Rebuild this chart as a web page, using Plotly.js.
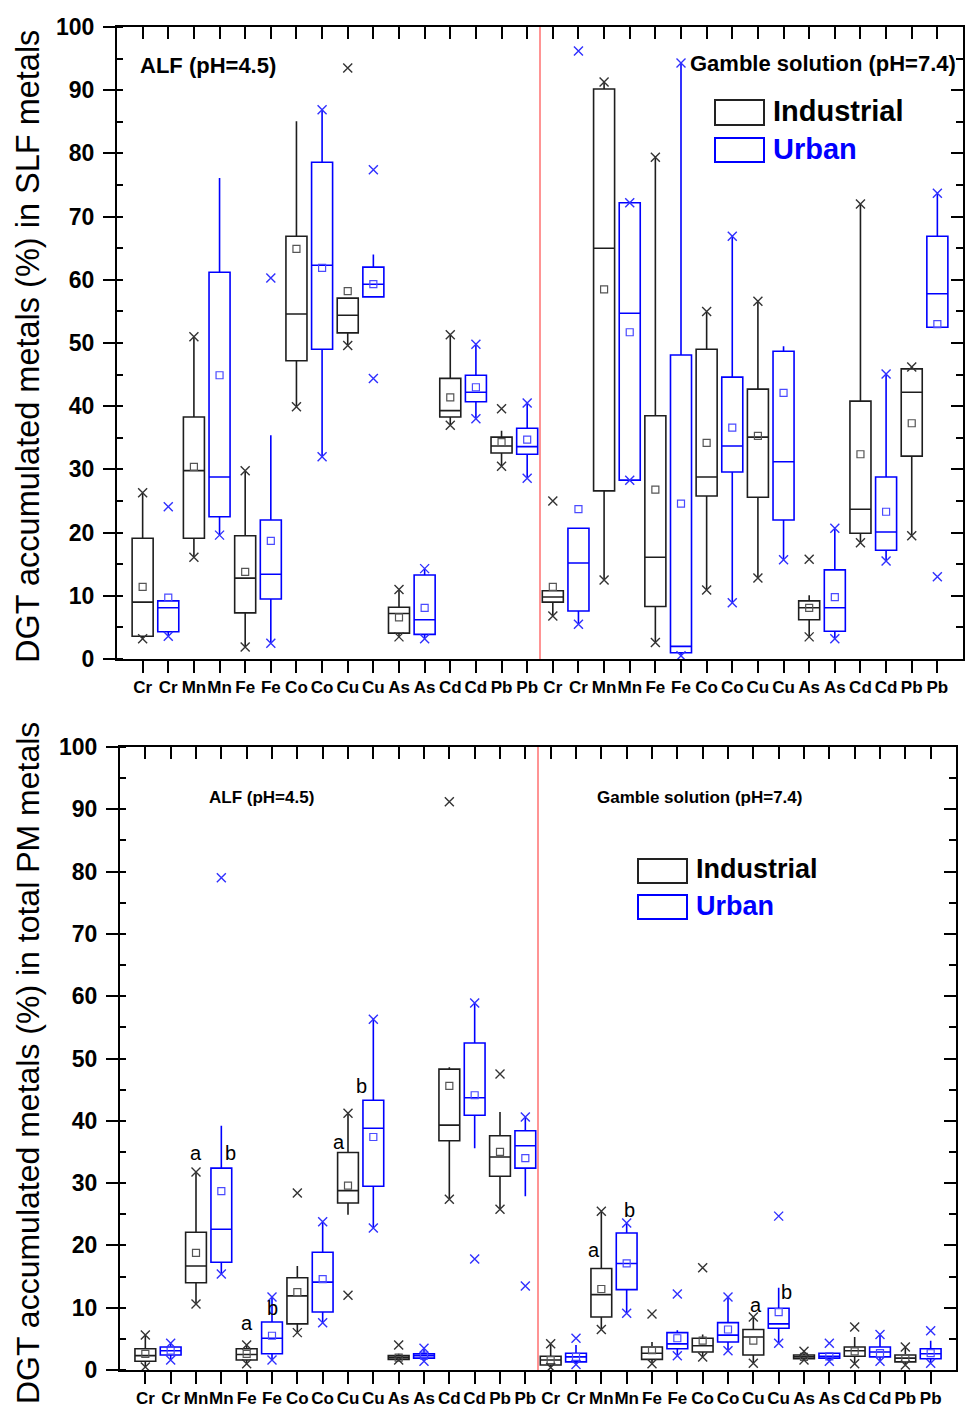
<!DOCTYPE html>
<html>
<head>
<meta charset="utf-8">
<script src="https://cdn.plot.ly/plotly-3.0.1.min.js"></script>
<style>html,body{margin:0;padding:0;background:#fff;}#chart{width:965px;height:1407px;}</style>
</head>
<body>
<div id="chart"></div>
<script>
// ---------- categories ----------
const metals = ['Cr','Mn','Fe','Co','Cu','As','Cd','Pb'];
const mediaLabels = ['ALF (pH=4.5)', 'Gamble solution (pH=7.4)'];
const groupNames = ['Industrial', 'Urban'];
const yTitleTop = 'DGT accumulated metals (%) in SLF metals';
const yTitleBottom = 'DGT accumulated metals (%) in total PM metals';

// ---------- top panel (SLF) : order ALF Cr..Pb, then Gamble Cr..Pb ----------
const slfIndLow  = [3.2,16.1,1.9,39.9,49.6,3.5,37.0,30.5, 6.8,12.5,2.6,10.9,12.8,3.5,18.4,19.5];
const slfIndQ1   = [3.6,19.1,7.3,47.2,51.6,4.1,38.3,32.6, 9.0,26.6,8.3,25.8,25.6,6.2,19.9,32.1];
const slfIndMed  = [9.0,29.8,12.8,54.6,54.4,7.2,39.3,33.7, 9.8,65.0,16.1,28.8,35.1,8.1,23.7,42.2];
const slfIndQ3   = [19.1,38.3,19.5,66.9,57.1,8.2,44.4,35.1, 10.8,90.2,38.5,49.0,42.7,9.2,40.8,45.9];
const slfIndHigh = [26.3,51.0,29.8,85.1,57.1,11.0,51.3,36.1, 10.8,91.3,79.4,55.0,56.6,10.1,72.0,46.2];
const slfIndMean = [11.4,30.4,13.8,64.9,58.2,6.6,41.4,34.3, 11.4,58.5,26.8,34.2,35.3,8.1,32.4,37.3];
const slfIndMin  = [3.2,16.1,1.9,39.9,49.6,3.5,37.0,30.5, 6.8,12.5,2.6,10.9,12.8,3.5,18.4,19.5];
const slfIndMax  = [26.3,51.0,29.8,null,93.5,11.0,51.3,39.6, 25.0,91.3,79.4,55.0,56.6,15.8,72.0,46.2];

const slfUrbLow  = [3.6,19.6,2.5,32.0,57.3,3.2,38.0,28.6, 5.5,28.3,0.5,8.9,15.7,3.2,15.5,52.5];
const slfUrbQ1   = [4.3,22.5,9.5,49.0,57.3,3.9,40.7,32.4, 7.6,28.3,1.0,29.6,22.0,4.4,17.2,52.5];
const slfUrbMed  = [8.1,28.8,13.4,62.3,59.3,6.2,42.2,33.6, 15.2,54.7,2.0,33.7,31.2,8.1,20.1,57.8];
const slfUrbQ3   = [9.2,61.2,22.0,78.6,62.0,13.3,44.9,36.5, 20.7,72.2,48.1,44.6,48.7,14.1,28.8,66.9];
const slfUrbHigh = [9.2,76.1,35.4,86.9,64.0,14.3,49.8,40.5, 20.7,72.2,94.3,66.9,49.5,20.7,45.1,73.7];
const slfUrbMean = [9.7,44.9,18.7,61.9,59.3,8.1,43.0,34.7, 23.7,51.7,24.6,36.6,42.1,9.8,23.3,53.0];
const slfUrbMin  = [3.6,19.6,2.5,32.0,44.4,3.2,38.0,28.6, 5.5,28.3,0.5,8.9,15.7,3.2,15.5,13.0];
const slfUrbMax  = [24.1,null,60.3,86.9,77.4,14.3,49.8,40.5, 96.2,72.2,94.3,66.9,null,20.7,45.1,73.7];

// ---------- bottom panel (total PM) ----------
const pmIndLow  = [0.5,10.6,1.0,6.0,24.9,1.6,27.4,25.8, 0.4,6.5,1.0,2.1,1.1,1.6,1.0,0.8];
const pmIndQ1   = [1.4,14.0,1.6,7.4,26.8,1.7,36.8,31.1, 0.8,8.5,1.7,2.9,2.4,1.8,2.2,1.3];
const pmIndMed  = [2.3,16.7,2.5,11.9,28.8,2.0,39.3,34.2, 1.6,12.1,2.7,3.9,5.3,2.1,3.1,1.9];
const pmIndQ3   = [3.4,22.1,3.4,14.8,34.9,2.3,48.3,37.6, 2.2,16.3,3.7,5.1,6.5,2.4,3.7,2.4];
const pmIndHigh = [5.6,31.8,4.0,16.7,41.2,2.6,48.6,41.4, 4.2,25.5,4.5,5.7,8.5,3.0,5.3,3.7];
const pmIndMean = [2.6,18.8,2.6,12.5,29.6,2.0,45.6,35.0, 1.6,13.0,3.2,4.7,4.7,2.1,3.0,1.9];
const pmIndMin  = [0.5,10.6,1.0,6.0,12.0,1.6,27.4,25.8, 0.4,6.5,1.0,2.1,1.1,1.6,1.0,0.8];
const pmIndMax  = [5.6,31.8,4.0,28.4,41.2,4.0,91.2,47.5, 4.2,25.5,9.0,16.4,8.5,3.0,6.9,3.7];

const pmUrbLow  = [1.6,15.4,1.6,7.6,22.8,1.4,35.6,27.9, 0.9,9.1,2.3,3.1,4.3,1.4,1.4,1.1];
const pmUrbQ1   = [2.4,17.3,2.6,9.3,29.5,1.9,40.9,32.4, 1.3,12.9,3.4,4.5,6.7,1.9,2.1,1.8];
const pmUrbMed  = [3.1,22.6,5.1,14.1,38.8,2.3,43.7,36.0, 2.1,17.1,4.2,5.6,7.4,2.2,2.9,2.6];
const pmUrbQ3   = [3.7,32.4,7.7,18.9,43.3,2.6,52.5,38.4, 2.7,22.0,6.0,7.6,9.9,2.7,3.7,3.4];
const pmUrbHigh = [4.3,39.2,11.7,23.8,56.3,3.5,58.9,40.6, 4.0,23.6,6.4,11.7,13.2,2.7,5.7,4.7];
const pmUrbMean = [3.1,28.7,5.5,14.6,37.4,2.3,44.1,34.0, 2.1,17.1,5.1,6.5,9.3,2.2,2.7,2.7];
const pmUrbMin  = [1.6,15.4,1.6,7.6,22.8,1.4,17.8,13.5, 0.9,9.1,2.3,3.1,4.3,1.4,1.4,1.1];
const pmUrbMax  = [4.3,79.0,11.7,23.8,56.3,3.5,58.9,40.6, 5.1,23.6,12.2,11.7,24.7,4.3,5.7,6.3];

// significance letters (bottom panel)
const sigText = ['a','b','a','b','a','b','a','b','a','b'];
const sigX    = [3, 4.35, 5, 6, 8.65, 9.55, 18.7, 20.1, 25.1, 26.3];
const sigY    = [34.8, 34.8, 7.5, 10.0, 36.6, 45.6, 19.3, 25.7, 10.4, 12.5];

// ---------- helpers ----------
const W = 965, H = 1407;
const px = v => v / W;
const py = v => 1 - v / H;
const FONT = 'Liberation Sans, Arial, sans-serif';
const BLACK = '#1e1e1e', BLUE = '#0000ff';

const tickText = [];
mediaLabels.forEach(() => metals.forEach(m => { tickText.push(m); tickText.push(m); }));
const tickVals = tickText.map((_, i) => i + 1);
const nBox = tickText.length / 2;
const indPos = Array.from({length: nBox}, (_, k) => 2 * k + 1);
const urbPos = Array.from({length: nBox}, (_, k) => 2 * k + 2);
const sepPos = nBox + 0.5;

function groupTraces(name, color, xs, lo, q1, med, q3, hi, mean, mn, mx, xa, ya) {
  const mc = color === BLUE ? '#4a4aff' : '#555';
  const xc = color === BLUE ? '#3030ff' : '#333';
  return [
    {type: 'box', name: name, x: xs, lowerfence: lo, q1: q1, median: med, q3: q3, upperfence: hi,
     boxpoints: false, width: 0.82, whiskerwidth: 0, fillcolor: 'rgba(0,0,0,0)',
     line: {color: color, width: 1.6}, xaxis: xa, yaxis: ya, showlegend: false, hoverinfo: 'y'},
    {type: 'scatter', mode: 'markers', x: xs, y: mean, xaxis: xa, yaxis: ya, showlegend: false,
     marker: {symbol: 'square-open', size: 7, color: mc, line: {width: 1.2, color: mc}}},
    {type: 'scatter', mode: 'markers', x: xs.concat(xs), y: mn.concat(mx), xaxis: xa, yaxis: ya, showlegend: false,
     marker: {symbol: 'x-thin-open', size: 9, color: xc, line: {width: 1.4, color: xc}}}
  ];
}

const data = [].concat(
  groupTraces(groupNames[0], BLACK, indPos, slfIndLow, slfIndQ1, slfIndMed, slfIndQ3, slfIndHigh, slfIndMean, slfIndMin, slfIndMax, 'x', 'y'),
  groupTraces(groupNames[1], BLUE, urbPos, slfUrbLow, slfUrbQ1, slfUrbMed, slfUrbQ3, slfUrbHigh, slfUrbMean, slfUrbMin, slfUrbMax, 'x', 'y'),
  groupTraces(groupNames[0], BLACK, indPos, pmIndLow, pmIndQ1, pmIndMed, pmIndQ3, pmIndHigh, pmIndMean, pmIndMin, pmIndMax, 'x2', 'y2'),
  groupTraces(groupNames[1], BLUE, urbPos, pmUrbLow, pmUrbQ1, pmUrbMed, pmUrbQ3, pmUrbHigh, pmUrbMean, pmUrbMin, pmUrbMax, 'x2', 'y2'),
  [
    {type: 'scatter', x: [null], y: [null], xaxis: 'x3', yaxis: 'y3', showlegend: false, hoverinfo: 'skip'},
    {type: 'scatter', x: [null], y: [null], xaxis: 'x4', yaxis: 'y4', showlegend: false, hoverinfo: 'skip'}
  ]
);

const xRange = [0, tickVals.length + 1];
function xBottom(domain, anchor) {
  return {domain: domain, anchor: anchor, range: xRange, tickmode: 'array', tickvals: tickVals, ticktext: tickText,
    tickangle: 0, ticks: 'outside', ticklen: 12, tickwidth: 2, tickcolor: '#000', showline: true, linewidth: 2, linecolor: '#000',
    showgrid: false, zeroline: false, fixedrange: true,
    tickfont: {family: FONT, size: 17, color: '#000', weight: 'bold'}};
}
function xTop(over, anchor) {
  return {overlaying: over, anchor: anchor, side: 'top', range: xRange, tickmode: 'array', tickvals: tickVals,
    ticks: 'inside', ticklen: 12, tickwidth: 2, tickcolor: '#000', showticklabels: false,
    showline: true, linewidth: 2, linecolor: '#000', showgrid: false, zeroline: false};
}
function yLeft(domain, anchor) {
  return {domain: domain, anchor: anchor, range: [0, 100], dtick: 10, tick0: 0,
    ticks: 'outside', ticklen: 12, tickwidth: 2, tickcolor: '#000', ticklabelstandoff: 4,
    minor: {dtick: 5, tick0: 0, ticks: 'inside', ticklen: 6, tickwidth: 2, tickcolor: '#000', showgrid: false},
    showline: true, linewidth: 2, linecolor: '#000', showgrid: false, zeroline: false,
    tickfont: {family: FONT, size: 23, color: '#000', weight: 'bold'}};
}
function yRight(over, anchor) {
  return {overlaying: over, anchor: anchor, side: 'right', range: [0, 100], dtick: 10, tick0: 0,
    ticks: 'inside', ticklen: 12, tickwidth: 2, tickcolor: '#000', showticklabels: false,
    minor: {dtick: 5, tick0: 0, ticks: 'inside', ticklen: 7, tickwidth: 2, tickcolor: '#000', showgrid: false},
    showline: true, linewidth: 2, linecolor: '#000', showgrid: false, zeroline: false};
}

const topX = [px(117), px(963)], topY = [py(659), py(27)];
const botX = [px(120), px(956)], botY = [py(1370), py(747)];

function txt(text, x, y, size, color, opts) {
  return Object.assign({text: text, xref: 'paper', yref: 'paper', x: x, y: y, xanchor: 'left', yanchor: 'middle',
    showarrow: false, font: {family: FONT, size: size, color: color, weight: 'bold'}}, opts || {});
}

const annotations = [
  txt(mediaLabels[0], px(138), py(66), 22, '#000'),
  txt(mediaLabels[1], px(688), py(63), 22, '#000'),
  txt(groupNames[0], px(771), py(111), 29, '#000'),
  txt(groupNames[1], px(771), py(149), 29, BLUE),
  txt(mediaLabels[0], px(207), py(797), 17, '#000'),
  txt(mediaLabels[1], px(595), py(797), 17, '#000'),
  txt(groupNames[0], px(694), py(869), 27, '#000'),
  txt(groupNames[1], px(694), py(906), 27, BLUE),
  {text: yTitleTop, xref: 'paper', yref: 'paper', x: px(28), y: py(347), xanchor: 'center', yanchor: 'middle',
   textangle: -90, showarrow: false, font: {family: FONT, size: 32.5, color: '#000'}},
  {text: yTitleBottom, xref: 'paper', yref: 'paper', x: px(28), y: py(1063), xanchor: 'center', yanchor: 'middle',
   textangle: -90, showarrow: false, font: {family: FONT, size: 32, color: '#000'}}
];
sigText.forEach((t, i) => annotations.push({text: t, xref: 'x2', yref: 'y2', x: sigX[i], y: sigY[i],
  xanchor: 'center', yanchor: 'middle', showarrow: false, font: {family: FONT, size: 20, color: '#000'}}));

const shapes = [
  {type: 'line', xref: 'x', yref: 'y domain', x0: sepPos, x1: sepPos, y0: 0, y1: 1, line: {color: '#ff7070', width: 1.5}},
  {type: 'line', xref: 'x2', yref: 'y2 domain', x0: sepPos, x1: sepPos, y0: 0, y1: 1, line: {color: '#ff7070', width: 1.5}},
  {type: 'rect', xref: 'paper', yref: 'paper', x0: px(715), x1: px(764), y0: py(125), y1: py(100), line: {color: '#222', width: 2}},
  {type: 'rect', xref: 'paper', yref: 'paper', x0: px(715), x1: px(764), y0: py(162), y1: py(138), line: {color: BLUE, width: 2}},
  {type: 'rect', xref: 'paper', yref: 'paper', x0: px(638), x1: px(687), y0: py(883), y1: py(859), line: {color: '#222', width: 2}},
  {type: 'rect', xref: 'paper', yref: 'paper', x0: px(638), x1: px(687), y0: py(919), y1: py(895), line: {color: BLUE, width: 2}}
];

const layout = {
  width: W, height: H, margin: {l: 0, r: 0, t: 0, b: 0, pad: 0},
  paper_bgcolor: '#fff', plot_bgcolor: 'rgba(0,0,0,0)', showlegend: false, boxmode: 'overlay',
  font: {family: FONT, color: '#000'},
  xaxis: xBottom(topX, 'y'),
  yaxis: yLeft(topY, 'x'),
  xaxis2: xBottom(botX, 'y2'),
  yaxis2: yLeft(botY, 'x2'),
  xaxis3: xTop('x', 'y'),
  yaxis3: yRight('y', 'x'),
  xaxis4: xTop('x2', 'y2'),
  yaxis4: yRight('y2', 'x2'),
  annotations: annotations,
  shapes: shapes
};

Plotly.newPlot('chart', data, layout, {staticPlot: true, displayModeBar: false});
</script>
</body>
</html>
